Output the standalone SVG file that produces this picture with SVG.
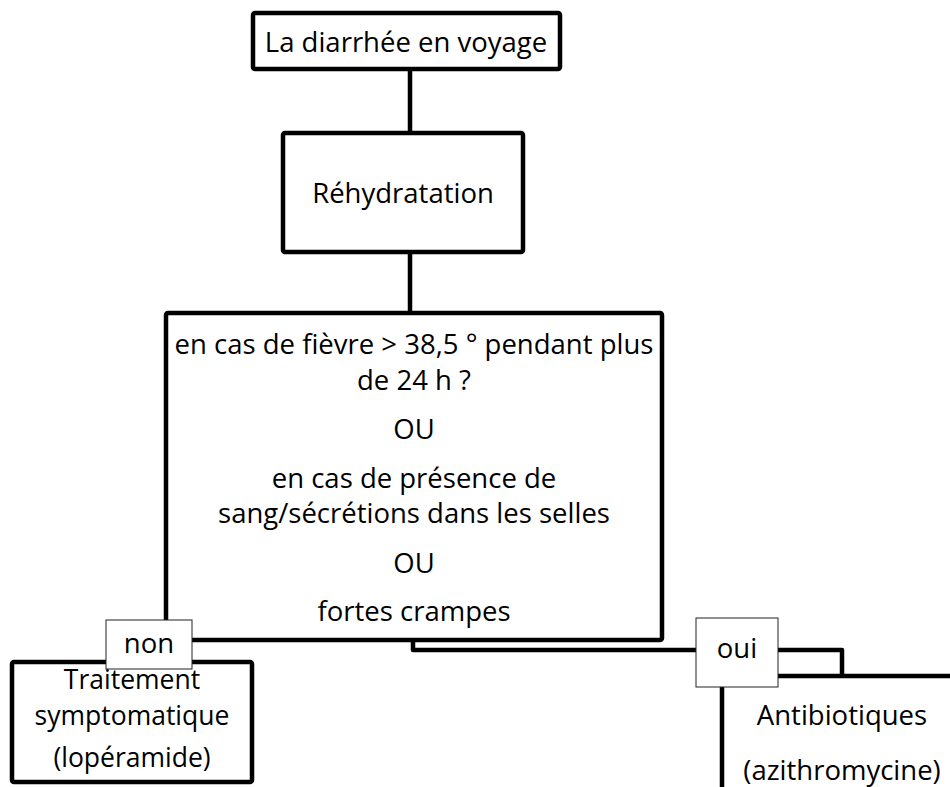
<svg xmlns="http://www.w3.org/2000/svg" width="950" height="787" viewBox="0 0 950 787">
<style>
.box{fill:#fff;stroke:#000;stroke-width:4.5;stroke-linejoin:round}
.lbl{fill:#fff;stroke:#222;stroke-width:1}
.con{fill:none;stroke:#000;stroke-width:4.5;stroke-linejoin:round}
text{font-family:"Open Sans","Noto Sans","DejaVu Sans",sans-serif;font-size:27.5px;fill:#000;text-anchor:middle}
.sm{font-size:26.5px}
</style>
<rect width="950" height="787" fill="#fff"/>
<g id="connectors">
<line class="con" x1="410" y1="69" x2="410" y2="133"/>
<line class="con" x1="410" y1="252" x2="410" y2="313"/>
<path class="con" d="M413 640 V650 H842 V676"/>
<line class="con" x1="149" y1="640" x2="149" y2="662"/>
</g>
<g id="n1"><rect class="box" x="253" y="13" width="307" height="56" rx="2"/><text x="406" y="52">La diarrhée en voyage</text></g>
<g id="n2"><rect class="box" x="283" y="133" width="240" height="119" rx="2"/><text x="403" y="203">Réhydratation</text></g>
<g id="n3"><rect class="box" x="166" y="313" width="496" height="327" rx="2"/>
<text x="414" y="354">en cas de fièvre &gt; 38,5 ° pendant plus</text>
<text x="414" y="390">de 24 h ?</text>
<text x="414" y="439">OU</text>
<text x="414" y="488">en cas de présence de</text>
<text x="414" y="523">sang/sécrétions dans les selles</text>
<text x="414" y="573">OU</text>
<text x="414" y="621">fortes crampes</text>
</g>
<g id="n4"><rect class="box" x="12" y="662" width="240" height="120" rx="2"/>
<text class="sm" x="132" y="689">Traitement</text>
<text class="sm" x="132" y="725">symptomatique</text>
<text class="sm" x="132" y="767">(lopéramide)</text>
</g>
<g id="n5"><rect class="box" x="722" y="676" width="260" height="150" rx="2"/>
<text x="842" y="725">Antibiotiques</text>
<text x="842" y="780">(azithromycine)</text>
</g>
<g id="lbl-non"><rect class="lbl" x="106" y="620" width="86" height="49"/><text x="149" y="653">non</text></g>
<g id="lbl-oui"><rect class="lbl" x="696" y="618" width="82" height="69"/><text x="737" y="658">oui</text></g>
</svg>
